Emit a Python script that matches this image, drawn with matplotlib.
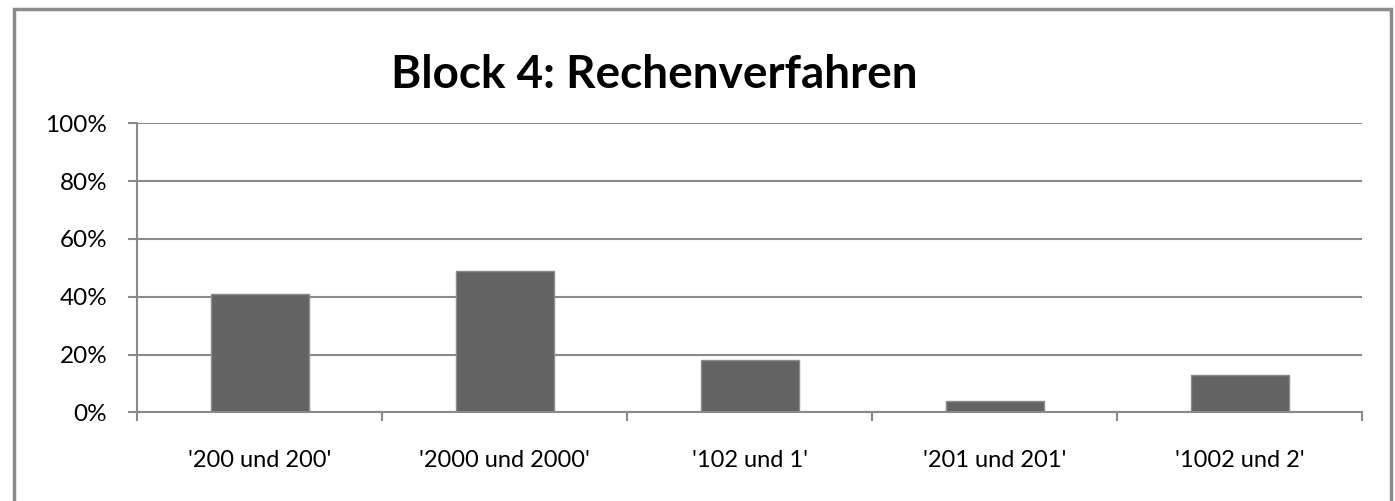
import matplotlib.pyplot as plt
from matplotlib.patches import Rectangle
from matplotlib.ticker import FuncFormatter

# data
categories = ["'200 und 200'", "'2000 und 2000'", "'102 und 1'", "'201 und 201'", "'1002 und 2'"]
values = [41, 49, 18, 4, 13]
yticks = [0, 20, 40, 60, 80, 100]
title = "Block 4: Rechenverfahren"

plt.rcParams['font.family'] = ['Lato', 'DejaVu Sans']

fig = plt.figure(figsize=(13.95, 5.01), dpi=100)
W, H = 1395, 501
ax = fig.add_axes([137 / W, 1 - 412.3 / H, (1362 - 137) / W, (412.3 - 123.3) / H])

grid_col = '#8a8a8a'
x = range(len(categories))
ax.bar(x, values, width=0.4, color='#636363', edgecolor='#8c8c8c', linewidth=1.0, zorder=3)

ax.set_ylim(0, 100)
ax.set_xlim(-0.5, len(categories) - 0.5)
ax.set_yticks(yticks)
ax.yaxis.set_major_formatter(FuncFormatter(lambda v, p: '%d%%' % v))
ax.yaxis.grid(True, color=grid_col, linewidth=1.5, zorder=0)

# category labels centred, tick marks between categories
ax.set_xticks(list(x))
ax.set_xticklabels(categories)
ax.set_xticks([i - 0.5 for i in range(len(categories) + 1)], minor=True)
ax.tick_params(axis='x', which='major', length=0, pad=27, labelsize=17)
ax.tick_params(axis='x', which='minor', length=6.5, width=1.5, color=grid_col)
ax.tick_params(axis='y', length=6.5, width=1.5, color=grid_col, pad=15, labelsize=17.5)

for s in ['top', 'right']:
    ax.spines[s].set_visible(False)
for s in ['left', 'bottom']:
    ax.spines[s].set_color(grid_col)
    ax.spines[s].set_linewidth(1.5)
    ax.spines[s].set_zorder(4)

fig.text(654 / W, 1 - 75 / H, title, ha='center', va='center',
         fontsize=33, fontweight='bold')

# outer chart frame
fig.patches.append(Rectangle((14 / W, -0.05), (1391 - 14) / W, 1.05 - 9 / H,
                             transform=fig.transFigure, fill=False,
                             edgecolor='#8c8c8c', linewidth=2.5))

fig.savefig('out.png', dpi=100)
